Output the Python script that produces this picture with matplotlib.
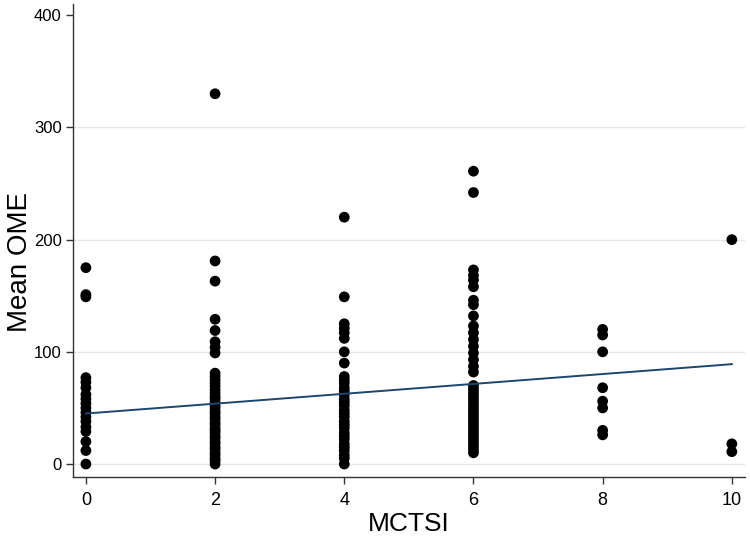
import matplotlib
matplotlib.use("Agg")
import matplotlib.pyplot as plt
import numpy as np

# MCTSI groups and Mean OME values
mctsi_0 = [175, 151, 149, 77, 73, 68, 62, 58, 54, 50, 46, 42, 38, 33, 29, 20, 12, 0]
mctsi_2 = [330, 181, 163, 129, 119, 109, 104, 99,
           81, 78, 75, 72, 69, 66, 63, 60, 58, 55, 52, 50, 47, 45, 42, 40, 37, 35,
           32, 30, 28, 25, 23, 20, 18, 15, 13, 10, 8, 5, 3, 0]
mctsi_4 = [220, 149, 125, 121, 117, 112, 100, 90,
           78, 75, 72, 68, 65, 62, 58, 55, 52, 48, 45, 42, 38, 35, 32, 28, 25, 22,
           18, 15, 12, 8, 5, 0]
mctsi_6 = [261, 242, 173, 168, 164, 158, 146, 142, 132, 123, 117, 111, 105, 99,
           93, 87, 82, 70, 67, 64, 61, 58, 55, 52, 49, 46, 43, 40, 37, 34, 31, 28,
           25, 22, 19, 16, 13, 10]
mctsi_8 = [120, 115, 100, 68, 56, 50, 30, 26]
mctsi_10 = [200, 18, 11]
groups = {0: mctsi_0, 2: mctsi_2, 4: mctsi_4, 6: mctsi_6, 8: mctsi_8, 10: mctsi_10}

# fitted line end points
fit_x = [0, 10]
fit_y = [45, 89]

x_ticks = [0, 2, 4, 6, 8, 10]
y_ticks = [0, 100, 200, 300, 400]
grid_values = [0, 100, 200, 300]

plt.rcParams['font.family'] = ['Liberation Sans', 'DejaVu Sans']

fig = plt.figure(figsize=(7.5, 5.36), dpi=100)
ax = fig.add_axes([0.0973, 0.110, 0.8957, 0.8825])

for gv in grid_values:
    ax.axhline(gv, color='#e6e6e6', lw=1.0, zorder=0)

xs = np.concatenate([[k] * len(v) for k, v in groups.items()])
ys = np.concatenate([v for v in groups.values()])
ax.scatter(xs, ys, s=60, color='black', edgecolors='none', zorder=3)

ax.plot(fit_x, fit_y, color='#1a476f', lw=1.4, zorder=4)

ax.set_xlim(-0.2, 10.2)
ax.set_ylim(-11.6, 410)
ax.set_xticks(x_ticks)
ax.set_yticks(y_ticks)
ax.tick_params(axis='x', labelsize=13, length=5, width=1, color='#333333', pad=6)
ax.tick_params(axis='y', labelsize=12, length=5, width=1, color='#333333', pad=3)

for s in ['top', 'right']:
    ax.spines[s].set_visible(False)
for s in ['left', 'bottom']:
    ax.spines[s].set_color('#333333')
    ax.spines[s].set_linewidth(1.0)

ax.set_xlabel('MCTSI', fontsize=19, labelpad=2)
ax.set_ylabel('Mean OME', fontsize=20, labelpad=5)
ax.yaxis.set_label_coords(-0.06, 0.455)

fig.savefig('out.png', dpi=100, facecolor='white')
